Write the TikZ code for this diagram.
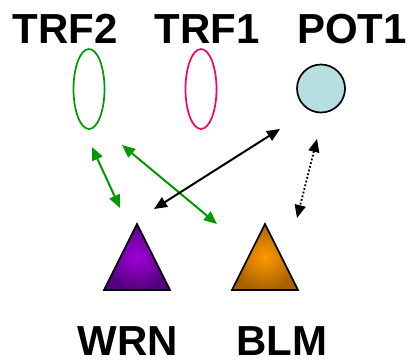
\documentclass[tikz,border=0pt]{standalone}
\usepackage{fontspec}
\setmainfont{Liberation Sans}
\usetikzlibrary{arrows.meta,shapes.geometric}
\definecolor{trfgreen}{HTML}{009900}
\definecolor{trfpink}{HTML}{FF0066}
\definecolor{potblue}{HTML}{B7DEE0}
\definecolor{wrnin}{HTML}{A000D8}
\definecolor{wrnout}{HTML}{55007F}
\definecolor{blmin}{HTML}{FF9A00}
\definecolor{blmout}{HTML}{A86200}
\tikzset{
  lbl/.style={font=\fontsize{42}{42}\selectfont\bfseries, anchor=base, inner sep=0, text depth=0pt},
  link/.style={line width=2, {Triangle[length=13pt, width=11pt]}-{Triangle[length=13pt, width=11pt]}},
  protein/.style={draw, line width=1.6, line join=miter},
}
\begin{document}
\begin{tikzpicture}[x=1pt,y=-1pt]
\useasboundingbox (0,0) rectangle (409,360);
% labels
\node[lbl] (ltrf2) at (65,43) {TRF2};
\node[lbl] (ltrf1) at (207,43) {TRF1};
\node[lbl] (lpot1) at (352,43) {POT1};
\node[lbl] (lwrn) at (128,355.5) {WRN};
\node[lbl] (lblm) at (282,355.5) {BLM};
% shapes
\node[draw=trfgreen, line width=1.7, ellipse, minimum width=31, minimum height=80, inner sep=0] (trf2) at (89,89) {};
\node[draw=trfpink, line width=1.7, ellipse, minimum width=31, minimum height=80, inner sep=0] (trf1) at (201,89) {};
\node[draw=black, fill=potblue, line width=1.7, circle, minimum size=48, inner sep=0] (pot1) at (321,88.5) {};
\shade[inner color=wrnin, outer color=wrnout] (137,224) -- (170,290) -- (104,290) -- cycle;
\draw[protein] (137,224) -- (170,290) -- (104,290) -- cycle;
\shade[inner color=blmin, outer color=blmout] (265,224) -- (298,290) -- (232,290) -- cycle;
\draw[protein] (265,224) -- (298,290) -- (232,290) -- cycle;
% connector ends
\coordinate (g1a) at (92,147);
\coordinate (g1b) at (120,208);
\coordinate (g2a) at (122,145);
\coordinate (g2b) at (217,224);
\coordinate (ba) at (280,129);
\coordinate (bb) at (154,209);
\coordinate (da) at (317,139);
\coordinate (db) at (297,218);
\draw[link, trfgreen] (g1a) -- (g1b);
\draw[link, trfgreen] (g2a) -- (g2b);
\draw[link, black] (ba) -- (bb);
\draw[link, black, line width=1.8, dotted] (da) -- (db);
\end{tikzpicture}
\end{document}
